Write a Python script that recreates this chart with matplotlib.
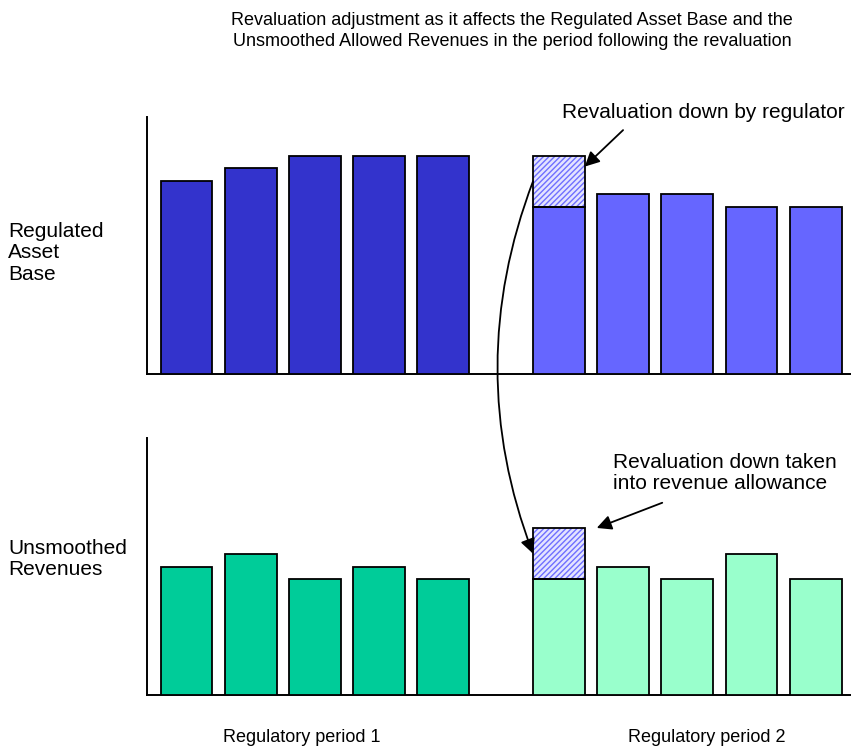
import numpy as np
import matplotlib
matplotlib.use("Agg")
import matplotlib.pyplot as plt
from matplotlib.patches import ConnectionPatch

plt.rcParams['font.family'] = ['Liberation Sans', 'DejaVu Sans']

# ── valores ────────────────────────────────────────────────────────────────
rab_p1 = [7.5, 8.0, 8.5, 8.5, 8.5]
rab_p2 = [6.5, 7.0, 7.0, 6.5, 6.5]
rev_p1 = [5.0, 5.5, 4.5, 5.0, 4.5]
rev_p2 = [4.5, 5.0, 4.5, 5.5, 4.5]
revaluation = 2.0          # ajuste no primeiro ano do período 2

titulo = ("Revaluation adjustment as it affects the Regulated Asset Base and the\n"
          "Unsmoothed Allowed Revenues in the period following the revaluation")
rotulo_rab = "Regulated\nAsset\nBase"
rotulo_rev = "Unsmoothed\nRevenues"
periodos = ["Regulatory period 1", "Regulatory period 2"]
nota_rab = "Revaluation down by regulator"
nota_rev = "Revaluation down taken\ninto revenue allowance"

x1 = np.arange(5)
x2 = np.arange(5) + 5.8
largura = 0.805

fig = plt.figure(figsize=(8.51, 7.54), dpi=100)
ax_top = fig.add_axes([147 / 851, 1 - 374 / 754, 704 / 851, 257 / 754])
ax_bot = fig.add_axes([147 / 851, 1 - 695 / 754, 704 / 851, 257 / 754])

for ax in (ax_top, ax_bot):
    ax.set_xlim(-0.615, 10.35)
    ax.set_ylim(0, 10)
    ax.spines[['top', 'right']].set_visible(False)
    ax.spines[['left', 'bottom']].set_linewidth(1.4)
    ax.set_xticks([])
    ax.set_yticks([])


def barras_hachuradas(ax, x, base):
    ax.bar(x, revaluation, largura, bottom=base, color='#e4e4ff',
           edgecolor='#6f6fff', hatch='//////', linewidth=0, zorder=2)
    ax.bar(x, revaluation, largura, bottom=base, fill=False,
           edgecolor='black', linewidth=1.3, zorder=3)


kw = dict(edgecolor='black', linewidth=1.3, zorder=3)
ax_top.bar(x1, rab_p1, largura, color='#3333cc', **kw)
ax_top.bar(x2, rab_p2, largura, color='#6666ff', **kw)
barras_hachuradas(ax_top, x2[0], rab_p2[0])

ax_bot.bar(x1, rev_p1, largura, color='#00cc99', **kw)
ax_bot.bar(x2, rev_p2, largura, color='#99ffcc', **kw)
barras_hachuradas(ax_bot, x2[0], rev_p2[0])

seta = dict(arrowstyle='-|>', color='black', lw=1.3, mutation_scale=22)

# notas com setas
ax_top.text(5.85, 10.16, nota_rab, fontsize=15, va='center', ha='left', clip_on=False)
ax_top.annotate('', xy=(x2[0] + largura / 2, 8.07), xytext=(6.8, 9.49),
                arrowprops=dict(shrinkA=0, shrinkB=0, **seta))

ax_bot.text(6.64, 8.63, nota_rev, fontsize=15, va='center', ha='left',
            linespacing=1.17)
ax_bot.annotate('', xy=(6.39, 6.5), xytext=(7.41, 7.48),
                arrowprops=dict(shrinkA=0, shrinkB=0, **seta))

# ligação curva entre os dois painéis
con = ConnectionPatch(xyA=(x2[0] - largura / 2, rab_p2[0] + revaluation / 2),
                      coordsA=ax_top.transData,
                      xyB=(x2[0] - largura / 2, rev_p2[0] + revaluation / 2),
                      coordsB=ax_bot.transData,
                      connectionstyle='arc3,rad=0.19', shrinkA=0, shrinkB=0,
                      **seta)
con.set_zorder(5)
fig.add_artist(con)

# textos gerais
fig.text(512 / 851, 1 - 31 / 754, titulo, fontsize=13, ha='center', va='center',
         linespacing=1.33)
fig.text(8 / 851, 1 - 253 / 754, rotulo_rab, fontsize=15, ha='left', va='center',
         linespacing=1.18)
fig.text(8 / 851, 1 - 559 / 754, rotulo_rev, fontsize=15, ha='left', va='center',
         linespacing=1.18)
ax_bot.text(np.mean(x1) - 0.2, -1.65, periodos[0], fontsize=13, ha='center',
            va='center', clip_on=False)
ax_bot.text(np.mean(x2) + 0.3, -1.65, periodos[1], fontsize=13, ha='center',
            va='center', clip_on=False)

fig.savefig("out.png", dpi=100)
